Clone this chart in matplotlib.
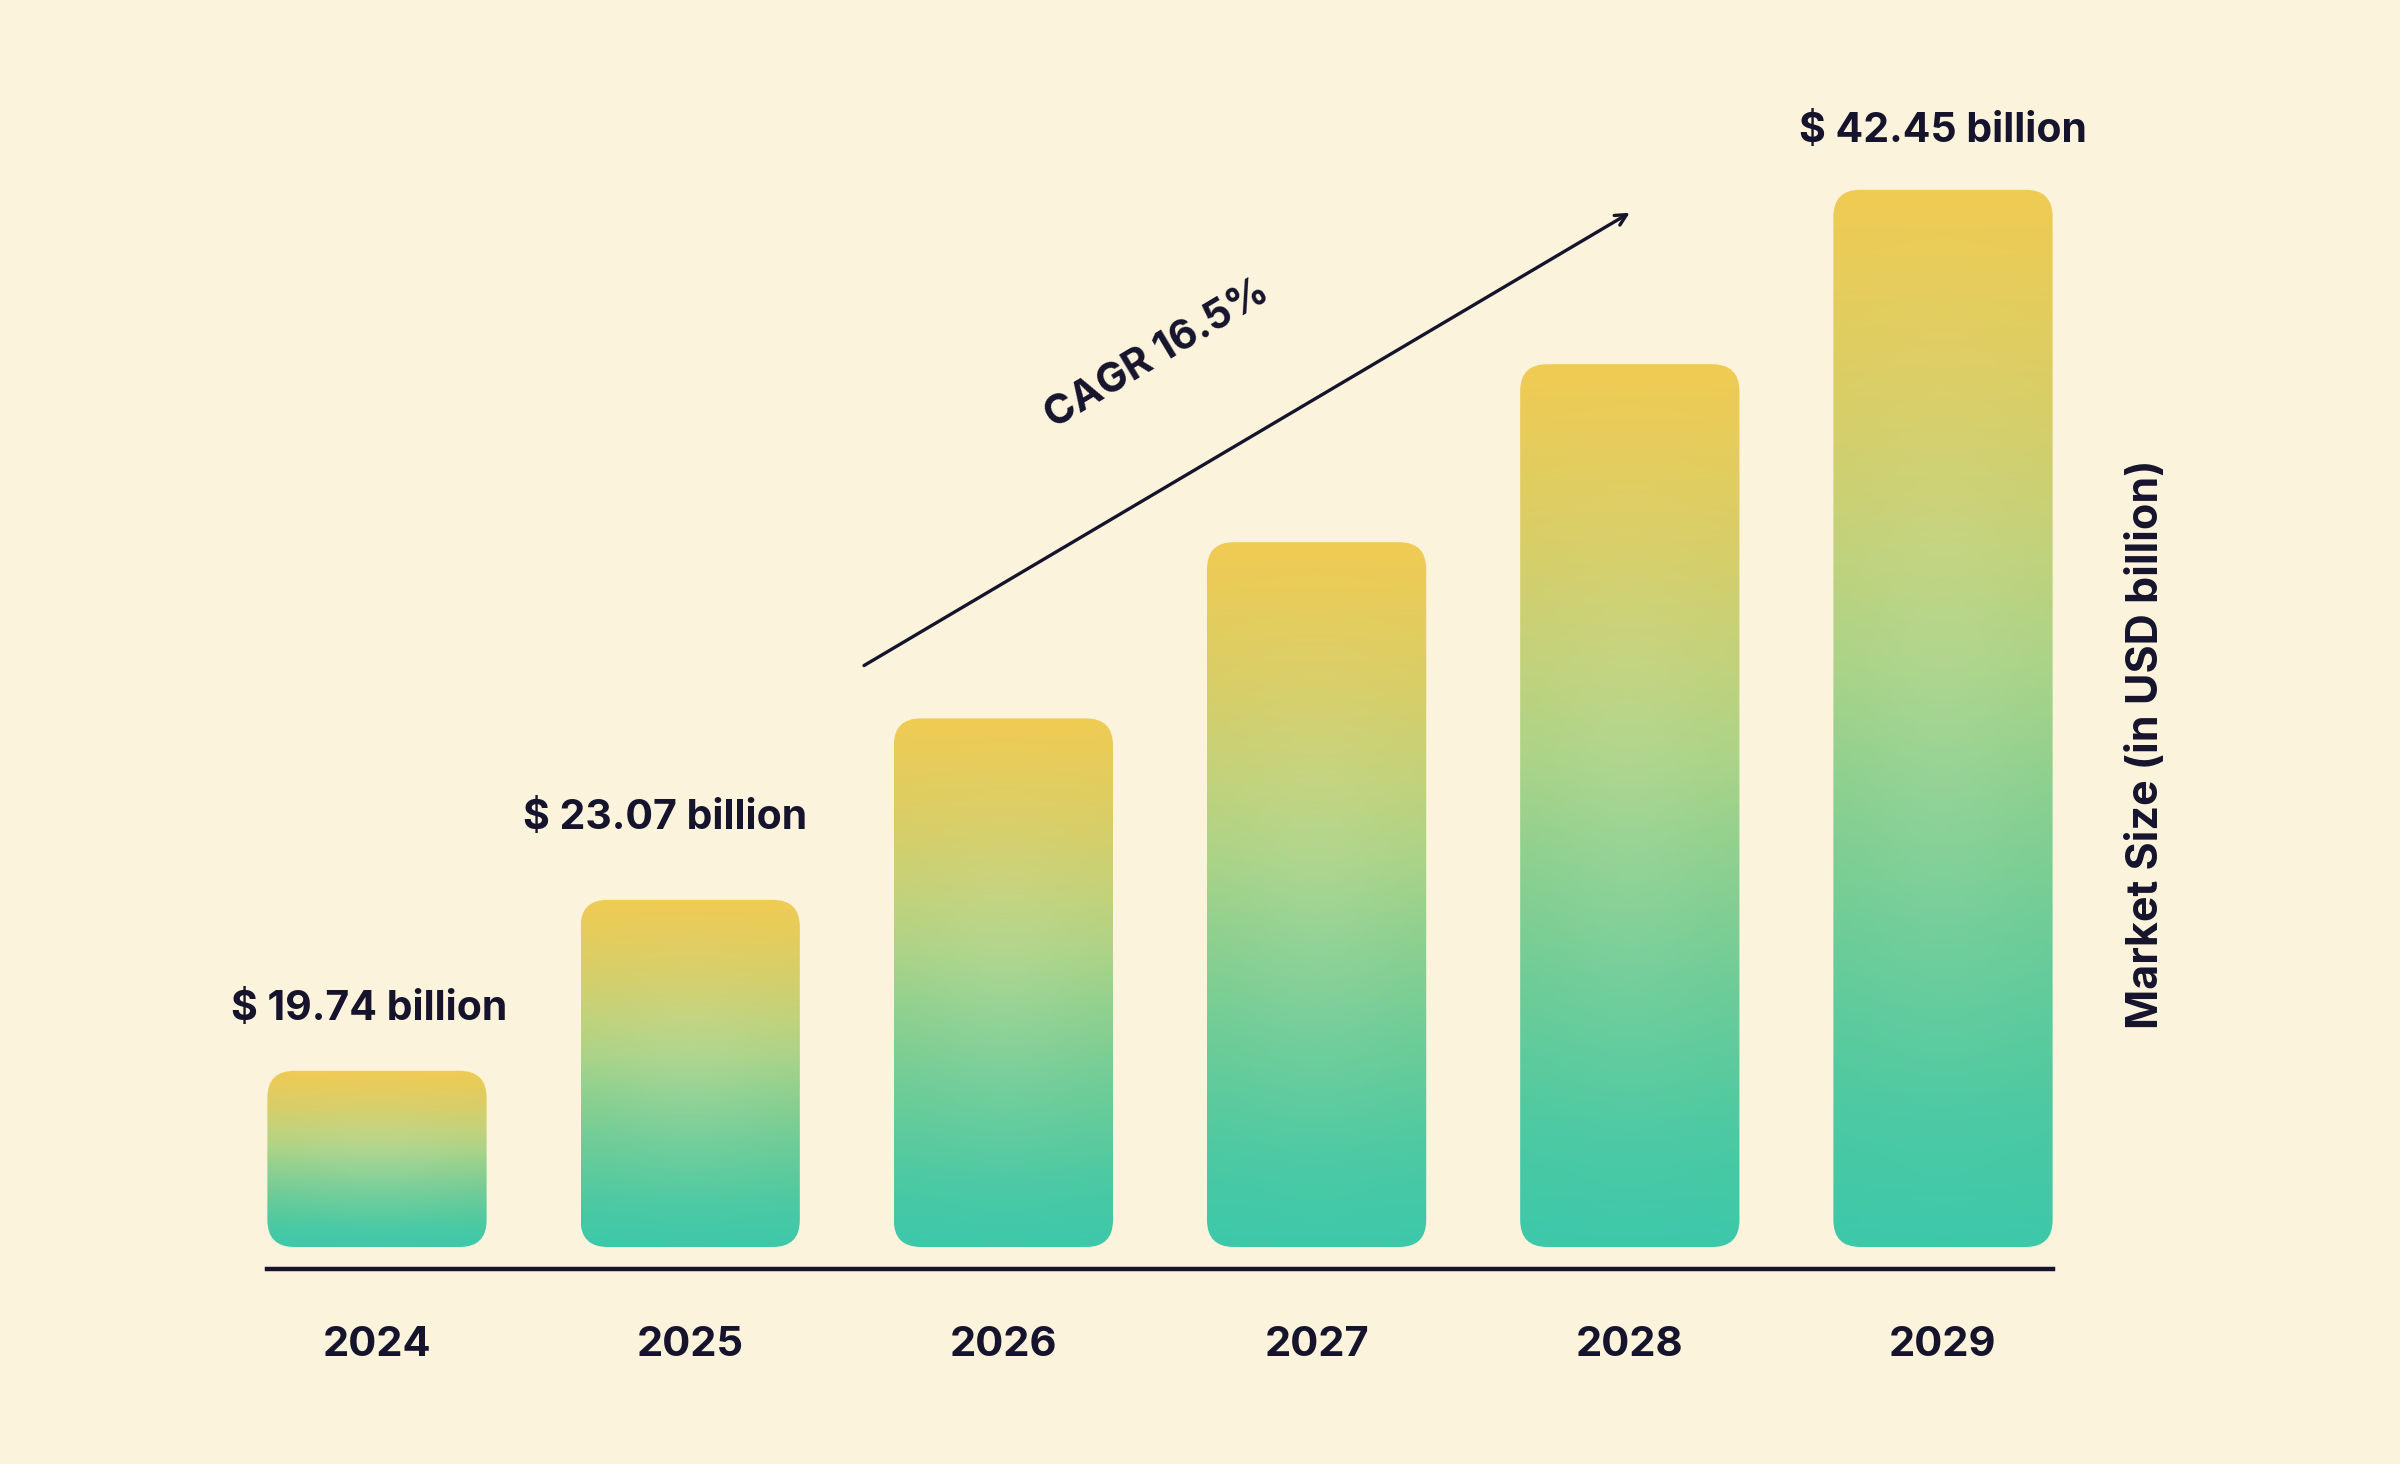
import numpy as np
import matplotlib
matplotlib.use("Agg")
from matplotlib import pyplot as plt
from matplotlib.colors import LinearSegmentedColormap
from matplotlib.patches import FancyBboxPatch

# data
years = ["2024", "2025", "2026", "2027", "2028", "2029"]
# bars are drawn as equal steps, not to scale with the market value
bar_heights = [1.0, 1.97, 3.0, 4.0, 5.01, 6.0]
value_labels = ["$ 19.74 billion", "$ 23.07 billion", "", "", "", "$ 42.45 billion"]
cagr_text = "CAGR 16.5%"
ylabel = "Market Size (in USD billion)"

bg = "#FCF3DC"
ink = "#16132C"
font = "Inter"

W, H, DPI = 2400, 1464, 100
step_px = 313.2      # pixels between bar centres
unit_px = 176.2      # pixels per height unit
x0_px = 377          # centre of first bar
bar_bottom_px = 1247 # from top
base_px = 1269       # baseline line, from top
bar_w = 0.70

fig = plt.figure(figsize=(W / DPI, H / DPI), dpi=DPI, facecolor=bg)
left = (x0_px - 0.5 * step_px) / W
bottom = (H - base_px) / H
ax = fig.add_axes([left, bottom, 6 * step_px / W, 1 - bottom])
ax.set_facecolor("none")
ax.set_xlim(-0.5, 5.5)
ax.set_ylim(-(base_px - bar_bottom_px) / unit_px, bar_bottom_px / unit_px)

cmap = LinearSegmentedColormap.from_list("bar", [
    (0.0, "#3DC8AA"), (0.12, "#4BC9A3"), (0.3, "#6ECC97"), (0.45, "#90D08E"),
    (0.55, "#AAD387"), (0.66, "#C1D27B"), (0.8, "#D8CE67"), (1.0, "#F0CB53")])

radius = 27 / step_px
aspect = step_px / unit_px

for i, h in enumerate(bar_heights):
    rows = 300
    t = np.linspace(0, 1, rows)[:, None]
    s = np.linspace(0, 1, 60)[None, :]
    img = cmap(np.repeat(t, 60, axis=1))[..., :3]
    glow = 0.07 * np.exp(-(((s - 0.5) / 0.35) ** 2 + ((t - 0.5) / 0.3) ** 2))
    img = img + (1 - img) * glow[..., None]
    patch = FancyBboxPatch((i - bar_w / 2, 0), bar_w, h,
                           boxstyle=f"round,pad=0,rounding_size={radius}",
                           mutation_aspect=aspect, facecolor="none",
                           edgecolor="none", transform=ax.transData)
    ax.add_patch(patch)
    im = ax.imshow(img, extent=(i - bar_w / 2, i + bar_w / 2, 0, h),
                   origin="lower", aspect="auto", interpolation="bilinear", zorder=2)
    im.set_clip_path(patch)

# value labels above bars (offsets in pixels)
label_offsets = [(-8, 51), (-25, 71), (0, 0), (0, 0), (0, 0), (0, 48)]
for i, (h, lab) in enumerate(zip(bar_heights, value_labels)):
    if not lab:
        continue
    dx, dy = label_offsets[i]
    ax.annotate(lab, (i, h), xytext=(dx, dy), textcoords="offset pixels",
                ha="center", va="baseline", fontsize=29.5, fontweight="bold",
                family=font, color=ink)

# growth arrow and CAGR text
ax.annotate("", xy=(4.0, 5.87), xytext=(1.555, 3.30),
            arrowprops=dict(arrowstyle="->,head_length=0.8,head_width=0.4",
                            color=ink, lw=2.4, shrinkA=0, shrinkB=0))
ax.text(2.49, 5.07, cagr_text, rotation=31, rotation_mode="anchor",
        ha="center", va="center", fontsize=29.5, fontweight="bold",
        family=font, color=ink)

# baseline and year labels
for side in ["top", "left", "right"]:
    ax.spines[side].set_visible(False)
ax.spines["bottom"].set_bounds(-bar_w / 2, 5 + bar_w / 2)
ax.spines["bottom"].set_linewidth(3.2)
ax.spines["bottom"].set_color(ink)
ax.set_yticks([])
ax.set_xticks(range(len(years)))
ax.set_xticklabels(years, fontsize=30, fontweight="bold", family=font, color=ink)
ax.tick_params(axis="x", length=0, pad=41)

fig.text(2146 / W, 1 - 744 / H, ylabel, rotation=90, ha="center", va="center",
         fontsize=31, fontweight="bold", family=font, color=ink)

fig.savefig("out.png", dpi=DPI, facecolor=bg)
